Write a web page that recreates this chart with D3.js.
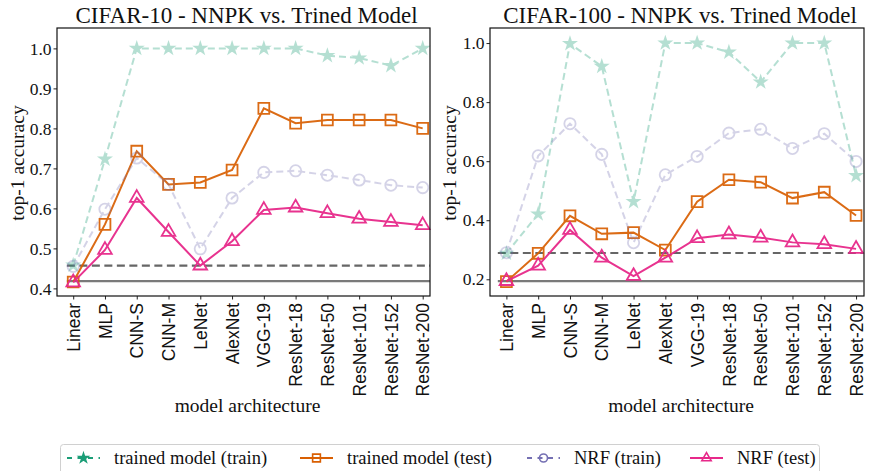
<!DOCTYPE html>
<html>
<head>
<meta charset="utf-8">
<script src="https://cdn.jsdelivr.net/npm/d3@7/dist/d3.min.js"></script>
<style>
  html, body { margin: 0; padding: 0; background: #fff; }
  svg { display: block; }
</style>
</head>
<body>
<svg id="chart" width="870" height="471"></svg>
<script>
// Model architectures on the x axis
const models = ["Linear", "MLP", "CNN-S", "CNN-M", "LeNet", "AlexNet", "VGG-19",
  "ResNet-18", "ResNet-50", "ResNet-101", "ResNet-152", "ResNet-200"];

// CIFAR-10 top-1 accuracies
const c10TrainedTrain = [0.458, 0.723, 1.0, 1.0, 1.0, 1.0, 1.0, 1.0, 0.982, 0.976, 0.957, 1.0];
const c10TrainedTest  = [0.416, 0.560, 0.743, 0.660, 0.665, 0.696, 0.850, 0.813, 0.821, 0.821, 0.821, 0.800];
const c10NrfTrain     = [0.455, 0.598, 0.726, 0.660, 0.499, 0.626, 0.690, 0.694, 0.683, 0.671, 0.658, 0.652];
const c10NrfTest      = [0.415, 0.496, 0.626, 0.541, 0.457, 0.518, 0.596, 0.602, 0.588, 0.574, 0.566, 0.558];
const c10Baselines    = [0.457, 0.418];   // dashed, solid

// CIFAR-100 top-1 accuracies
const c100TrainedTrain = [0.288, 0.421, 0.998, 0.921, 0.463, 1.0, 1.0, 0.969, 0.868, 1.0, 1.0, 0.551];
const c100TrainedTest  = [0.192, 0.288, 0.415, 0.354, 0.358, 0.299, 0.463, 0.537, 0.529, 0.475, 0.495, 0.416];
const c100NrfTrain     = [0.290, 0.618, 0.727, 0.623, 0.324, 0.554, 0.616, 0.695, 0.708, 0.643, 0.693, 0.599];
const c100NrfTest      = [0.194, 0.246, 0.367, 0.273, 0.211, 0.273, 0.339, 0.352, 0.341, 0.325, 0.319, 0.303];
const c100Baselines    = [0.289, 0.194];

const c10Ticks  = [0.4, 0.5, 0.6, 0.7, 0.8, 0.9, 1.0];
const c100Ticks = [0.2, 0.4, 0.6, 0.8, 1.0];

const seriesNames = ["trained model (train)", "trained model (test)", "NRF (train)", "NRF (test)"];

const styles = [
  { color: "#1b9e77", opacity: 0.32, dash: "7,4", symbol: d3.symbolStar, size: 34, legendSize: 24 },
  { color: "#d95f02", opacity: 0.92, dash: null,  symbol: d3.symbolSquare, size: 118, legendSize: 60 },
  { color: "#7570b3", opacity: 0.3,  dash: "7,4", symbol: d3.symbolCircle, size: 100, legendSize: 50 },
  { color: "#e7298a", opacity: 0.95, dash: null,  symbol: d3.symbolTriangle, size: 80, legendSize: 38 }
];

const serif = "'Liberation Serif', 'Times New Roman', serif";
const sans = "'Liberation Sans', Arial, sans-serif";
const svg = d3.select("#chart");

function panel(cfg) {
  const x = d3.scaleLinear().domain(cfg.xDomain).range([cfg.left, cfg.right]);
  const y = d3.scaleLinear().domain(cfg.yDomain).range([296, 28]);
  const g = svg.append("g");

  // reference lines
  const [dashedV, solidV] = cfg.baselines;
  g.append("line")
    .attr("x1", x(cfg.hx[0])).attr("x2", x(cfg.hx[1]))
    .attr("y1", y(solidV)).attr("y2", y(solidV))
    .attr("stroke", "#7a7a7a").attr("stroke-width", 2.2);
  g.append("line")
    .attr("x1", x(cfg.hx[0])).attr("x2", x(cfg.hx[1]))
    .attr("y1", y(dashedV)).attr("y2", y(dashedV))
    .attr("stroke", "#666").attr("stroke-width", 2.2).attr("stroke-dasharray", "8,4.5");

  const line = d3.line().x((d, i) => x(i)).y(d => y(d));
  cfg.series.forEach((vals, si) => {
    const st = styles[si];
    const sg = g.append("g").attr("opacity", st.opacity);
    sg.append("path").datum(vals)
      .attr("d", line).attr("fill", "none")
      .attr("stroke", st.color).attr("stroke-width", 2)
      .attr("stroke-dasharray", st.dash);
    sg.selectAll("path.m").data(vals).enter().append("path")
      .attr("class", "m")
      .attr("d", d3.symbol().type(st.symbol).size(st.size))
      .attr("transform", (d, i) => `translate(${x(i)},${y(d)})`)
      .attr("fill", si === 0 ? st.color : "none")
      .attr("stroke", st.color).attr("stroke-width", 1.8);
  });

  // axes
  const yAxis = d3.axisLeft(y).tickValues(cfg.ticks).tickFormat(d3.format(".1f")).tickSize(3.5).tickPadding(2);
  const ya = g.append("g").attr("transform", `translate(${cfg.left},0)`).call(yAxis);
  ya.select(".domain").remove();
  ya.selectAll("text").attr("font-family", serif).attr("font-size", 17.5).attr("fill", "#111");
  ya.selectAll("line").attr("stroke", "#222");

  const xAxis = d3.axisBottom(x).tickValues(d3.range(models.length)).tickFormat(i => models[i]).tickSize(3.5);
  const xa = g.append("g").attr("transform", "translate(0,296)").call(xAxis);
  xa.select(".domain").remove();
  xa.selectAll("line").attr("stroke", "#222");
  xa.selectAll("text")
    .attr("font-family", sans).attr("font-size", 17.5).attr("fill", "#111")
    .attr("text-anchor", "end")
    .attr("transform", "rotate(-90)")
    .attr("x", -7).attr("y", 0).attr("dy", "0.35em");

  // frame
  g.append("rect")
    .attr("x", cfg.left).attr("y", 28)
    .attr("width", cfg.right - cfg.left).attr("height", 268)
    .attr("fill", "none").attr("stroke", "#111").attr("stroke-width", 1.2);

  // titles and labels
  g.append("text").attr("x", (cfg.left + cfg.right) / 2 + 3).attr("y", 23)
    .attr("text-anchor", "middle").attr("font-family", serif).attr("font-size", 23)
    .attr("fill", "#111").text(cfg.title);
  g.append("text").attr("x", (cfg.left + cfg.right) / 2 + 4).attr("y", 412)
    .attr("text-anchor", "middle").attr("font-family", serif).attr("font-size", 19.5)
    .attr("fill", "#111").text("model architecture");
  g.append("text")
    .attr("transform", `translate(${cfg.ylabelX},163) rotate(-90)`)
    .attr("text-anchor", "middle").attr("font-family", serif).attr("font-size", 19.5)
    .attr("fill", "#111").text("top-1 accuracy");
}

panel({
  left: 57, right: 430, xDomain: [-0.51, 11.23], yDomain: [0.381, 1.051],
  hx: [-0.2, 11.23], ticks: c10Ticks, baselines: c10Baselines,
  series: [c10TrainedTrain, c10TrainedTest, c10NrfTrain, c10NrfTest],
  title: "CIFAR-10 - NNPK vs. Trined Model", ylabelX: 24
});
panel({
  left: 490, right: 864, xDomain: [-0.516, 11.25], yDomain: [0.1434, 1.051],
  hx: [-0.27, 11.23], ticks: c100Ticks, baselines: c100Baselines,
  series: [c100TrainedTrain, c100TrainedTest, c100NrfTrain, c100NrfTest],
  title: "CIFAR-100 - NNPK vs. Trined Model", ylabelX: 456
});

// legend
const legend = svg.append("g");
legend.append("rect")
  .attr("x", 60.5).attr("y", 444.5).attr("width", 759).attr("height", 40).attr("rx", 3)
  .attr("fill", "#fff").attr("stroke", "#d0d0d0").attr("stroke-width", 1);
const legendX = [67, 300, 527, 690];
seriesNames.forEach((name, si) => {
  const st = styles[si];
  const lx = legendX[si];
  const ly = 458;
  const lg = legend.append("g");
  lg.append("line").attr("x1", lx).attr("x2", lx + 33).attr("y1", ly).attr("y2", ly)
    .attr("stroke", st.color).attr("stroke-width", 2)
    .attr("stroke-dasharray", st.dash ? "5,5.5" : null);
  lg.append("path")
    .attr("d", d3.symbol().type(st.symbol).size(st.legendSize))
    .attr("transform", `translate(${lx + 16.5},${ly})`)
    .attr("fill", si === 0 ? st.color : "none")
    .attr("stroke", st.color).attr("stroke-width", 1.6);
  lg.append("text").attr("x", lx + 47).attr("y", ly).attr("dy", "0.33em")
    .attr("font-family", serif).attr("font-size", 18.5).attr("fill", "#111").text(name);
});
</script>
</body>
</html>
